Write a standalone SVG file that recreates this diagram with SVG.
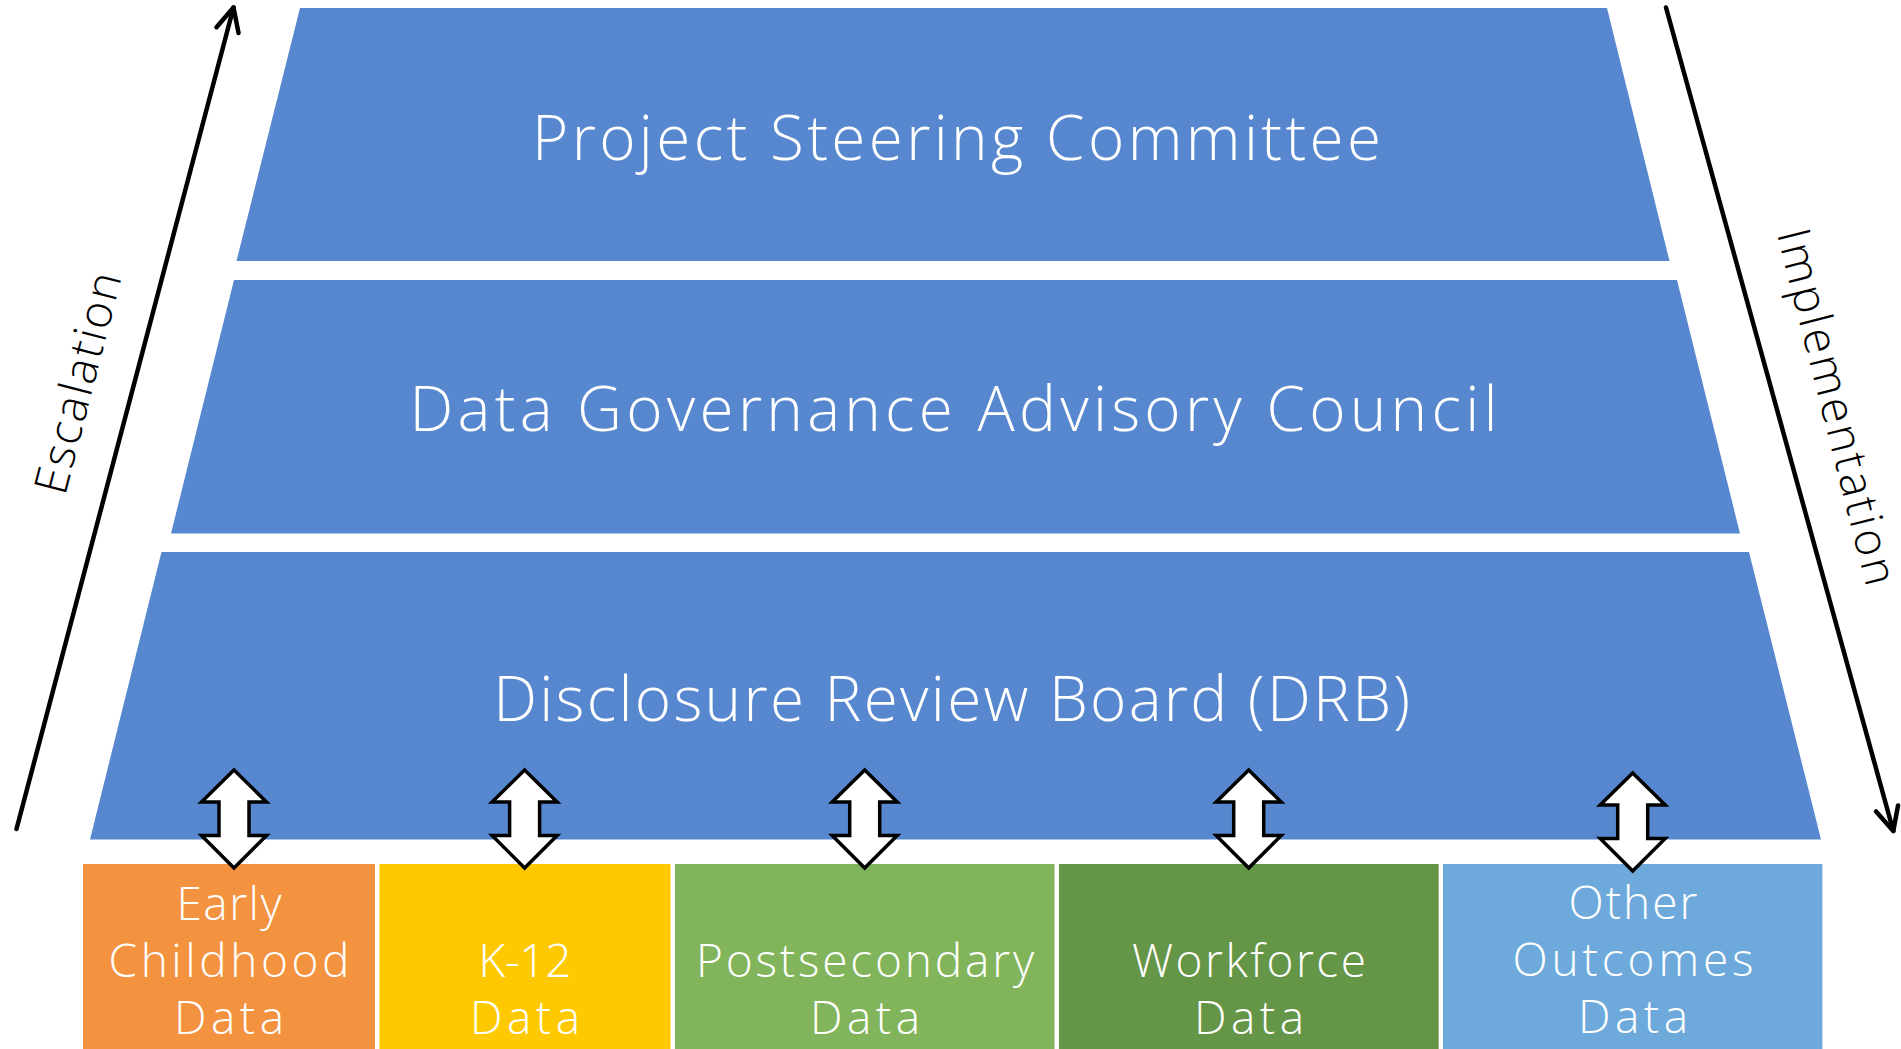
<svg xmlns="http://www.w3.org/2000/svg" width="1901" height="1049" viewBox="0 0 1901 1049">
  <style>
    .tier { fill: #5687CF; }
    .title { font-family: "Open Sans", "Liberation Sans", sans-serif; font-weight: 300; font-size: 62px; fill: #FFFFFF; text-anchor: middle; }
    .src { font-family: "Open Sans", "Liberation Sans", sans-serif; font-weight: 300; font-size: 46px; fill: #FFFFFF; text-anchor: middle; }
    .side { font-family: "Open Sans", "Liberation Sans", sans-serif; font-weight: 300; font-size: 46px; fill: #000000; text-anchor: middle; }
    .flow { fill: none; stroke: #000000; stroke-width: 4.5; stroke-linecap: round; }
    .dbl { fill: #FFFFFF; stroke: #000000; stroke-width: 3.5; stroke-linejoin: miter; }
  </style>
  <defs>
    <marker id="openHead" markerUnits="userSpaceOnUse" markerWidth="40" markerHeight="40" viewBox="-30 -20 40 40" refX="0" refY="0" orient="auto" overflow="visible">
      <path d="M -23.4,-11.4 L 0,0 L -23.4,11.4" fill="none" stroke="#000000" stroke-width="4.5" stroke-linecap="round" stroke-linejoin="round"/>
    </marker>
    <path id="dblArrow" d="M 0,0 L 32.5,32 L 15,32 L 15,65.5 L 32.5,65.5 L 0,98 L -32.5,65.5 L -15,65.5 L -15,32 L -32.5,32 Z"/>
  </defs>

  <rect width="1901" height="1049" fill="#FFFFFF"/>

  <g id="psc">
    <polygon class="tier" points="300,8 1607,8 1669.5,261 236.5,261"/>
    <text class="title" x="956.5" y="159.5" textLength="849">Project Steering Committee</text>
  </g>
  <g id="dgac">
    <polygon class="tier" points="234,280 1677,280 1740,533.5 171,533.5"/>
    <text class="title" x="953.5" y="431" textLength="1088">Data Governance Advisory Council</text>
  </g>
  <g id="drb">
    <polygon class="tier" points="161.5,552 1749,552 1821,839.5 90,839.5"/>
    <text class="title" x="951.7" y="721" textLength="917">Disclosure Review Board (DRB)</text>
  </g>

  <g id="early-childhood">
    <rect x="83" y="864" width="292" height="185" fill="#F3923F"/>
    <text class="src" x="229" y="920" textLength="105">Early</text>
    <text class="src" x="229" y="977" textLength="241">Childhood</text>
    <text class="src" x="229" y="1034" textLength="110">Data</text>
  </g>
  <g id="k12">
    <rect x="379.5" y="864" width="291" height="185" fill="#FFC901"/>
    <text class="src" x="525" y="977" textLength="93">K-12</text>
    <text class="src" x="525" y="1034" textLength="110">Data</text>
  </g>
  <g id="postsecondary">
    <rect x="675" y="864" width="379.5" height="185" fill="#82B55B"/>
    <text class="src" x="865" y="977" textLength="338">Postsecondary</text>
    <text class="src" x="865" y="1034" textLength="110">Data</text>
  </g>
  <g id="workforce">
    <rect x="1059" y="864" width="379.7" height="185" fill="#659546"/>
    <text class="src" x="1249" y="977" textLength="234">Workforce</text>
    <text class="src" x="1249" y="1034" textLength="110">Data</text>
  </g>
  <g id="other-outcomes">
    <rect x="1443" y="864" width="379.4" height="185" fill="#6DAADB"/>
    <text class="src" x="1633" y="918.5" textLength="129">Other</text>
    <text class="src" x="1633" y="975.5" textLength="241">Outcomes</text>
    <text class="src" x="1633" y="1033" textLength="110">Data</text>
  </g>

  <g id="connectors">
    <path class="flow" d="M 16.5,829 L 233.5,7.5" marker-end="url(#openHead)"/>
    <path class="flow" d="M 1666,7.5 L 1893.3,831" marker-end="url(#openHead)"/>
    <use href="#dblArrow" class="dbl" transform="translate(234,770)"/>
    <use href="#dblArrow" class="dbl" transform="translate(524.6,770)"/>
    <use href="#dblArrow" class="dbl" transform="translate(864.7,770)"/>
    <use href="#dblArrow" class="dbl" transform="translate(1248.7,770)"/>
    <use href="#dblArrow" class="dbl" transform="translate(1632.7,773)"/>
  </g>

  <g id="labels">
    <text class="side" transform="translate(93.3,386.8) rotate(-75.5)" x="0" y="0" textLength="227">Escalation</text>
    <text class="side" transform="translate(1821.7,410.7) rotate(75.8)" x="0" y="0" textLength="366">Implementation</text>
  </g>
</svg>
